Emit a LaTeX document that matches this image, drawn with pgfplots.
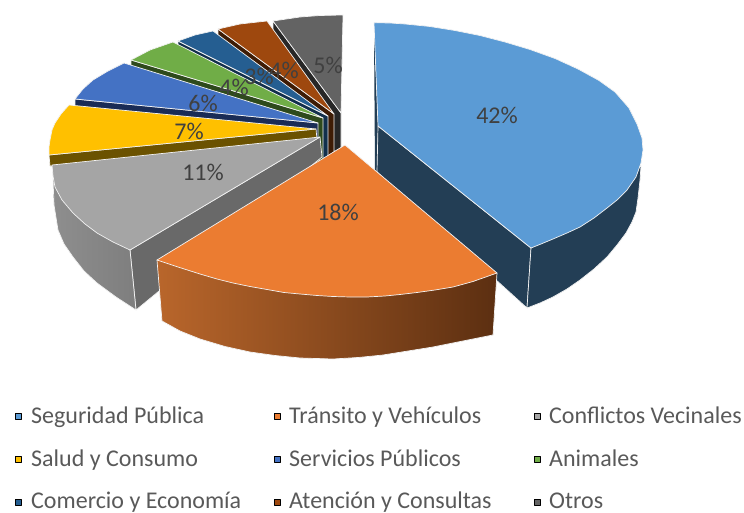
\documentclass[border=0pt]{standalone}
\usepackage{fontspec}
\setmainfont{Carlito}
\usepackage{pgfplots}
\pgfplotsset{compat=1.18}
\definecolor{cA}{HTML}{5B9BD5}\definecolor{cAd}{HTML}{233E55}
\definecolor{cB}{HTML}{EB7C31}\definecolor{cBl}{HTML}{B9662B}\definecolor{cBr}{HTML}{5C2F11}
\definecolor{cC}{HTML}{A5A5A5}\definecolor{cCl}{HTML}{8E8E8E}\definecolor{cCr}{HTML}{7E7E7E}\definecolor{cCd}{HTML}{696969}
\definecolor{cD}{HTML}{FFC000}\definecolor{cDd}{HTML}{6B5200}
\definecolor{cE}{HTML}{4472C4}\definecolor{cEd}{HTML}{1A2C56}
\definecolor{cF}{HTML}{70AD47}\definecolor{cFd}{HTML}{2E4A1C}
\definecolor{cG}{HTML}{255E91}\definecolor{cGd}{HTML}{12304C}
\definecolor{cH}{HTML}{9E480E}\definecolor{cHd}{HTML}{3E1C05}
\definecolor{cI}{HTML}{636363}\definecolor{cId}{HTML}{272727}
\definecolor{lab}{HTML}{404040}\definecolor{leg}{HTML}{595959}
\tikzset{
  edge/.style={draw=white!95!black,line width=0.7pt},
  lbl/.style={font=\fontsize{24}{24}\selectfont,text=lab,inner sep=0pt,anchor=center},
  lg/.style={font=\fontsize{24}{24}\selectfont,text=leg,inner sep=0pt,anchor=base west}}
\begin{document}
\begin{tikzpicture}
\begin{axis}[scale only axis,width=744pt,height=513pt,xmin=0,xmax=744,ymin=0,ymax=513,y dir=reverse,hide axis,clip=false,
  every axis plot/.append style={line join=round}]
\path (axis cs:0,0) rectangle (axis cs:744,513);
% Otros
\addplot[fill=cId,edge] coordinates {(273,21)(341,113)(341,160)(273,70)} -- cycle;
\addplot[fill=cI,edge] coordinates {(341,113)(273,21)(300,17)(320,15.5)(343,15)} -- cycle;
% Atencion
\addplot[fill=cHd,edge] coordinates {(218,29)(334,114)(334,165)(218,75)} -- cycle;
\addplot[fill=cH,edge] coordinates {(334,114)(218,29)(240,24)(267,21)} -- cycle;
% Comercio
\addplot[fill=cGd,edge] coordinates {(178,41)(328,116)(328,165)(178,90)} -- cycle;
\addplot[fill=cG,edge] coordinates {(328,116)(178,41)(195,35)(213,31)} -- cycle;
% Animales
\addplot[fill=cFd,edge] coordinates {(131,60)(323,118)(323,170)(131,110)} -- cycle;
\addplot[fill=cF,edge] coordinates {(323,118)(131,60)(150,50)(173,42)} -- cycle;
% Servicios
\addplot[fill=cEd,edge] coordinates {(75,99)(318,123)(318,168)(75,150)} -- cycle;
\addplot[fill=cE,edge] coordinates {(318,123)(75,99)(83,89)(93,80)(108,71)(124,63)} -- cycle;
% Salud
\addplot[fill=cDd,edge] coordinates {(49,155)(316,129)(320,170)(50,166)} -- cycle;
\addplot[fill=cD,edge] coordinates {(316,129)(49,155)(49,147)(50,140)(52,130)(55,123)(61,114)(69,105)} -- cycle;
% Conflictos
\addplot[fill=cCd,edge] coordinates {(320,137)(322,157)(136,310)(130,250)} -- cycle;
\addplot[left color=cCl,right color=cCr,edge] coordinates {(53,178)(54,205)(58,230)(64,244)(73,257)(84,271)(97,283)(116,297)(136,310)(130,250)} -- cycle;
\addplot[fill=cC,edge] coordinates {(320,137)(52,165)(53,176)(55,187)(62,200)(73,213)(85,224)(97,233)(113,242)(130,250)} -- cycle;
% Seguridad faces
\addplot[fill=cAd,draw=none] coordinates {(374,30)(378,126)(377,172)(375,172)} -- cycle;
\addplot[fill=cAd,edge] coordinates {(378,126)(531,248)(527,308)(377,172)} -- cycle;
\addplot[fill=cAd,edge] coordinates {(641,166)(640,180)(638,198)(636,212)(632,222)(626,233)(617,245)(607,257)(594,269)(580,280)(567,289)(553,297)(540,303)(527,308)(531,248)} -- cycle;
\addplot[fill=cA,edge] coordinates {(378,126)(374,22.7)(390,23)(405,24)(430,26.5)(455,30.5)(480,35.5)(505,42)(530,49.5)(555,58.5)(578,69)(599,80.5)(615,92)(629,108)(637,124)(642,138)(643,150)(641,163)(636,177)(627,190)(617,200)(607,208)(594,218)(580,227)(567,233)(553,239)(541,244)(531,248)} -- cycle;
% Transito
\addplot[left color=cBl,right color=cBr,edge] coordinates {(157,260)(162,321)(180,331)(200,339)(225,346.5)(250,352)(275,355.5)(300,358)(333,359)(358,357.5)(383,355)(408,351)(433,347)(463,341)(493,335)(497,273)} -- cycle;
\addplot[fill=cB,edge] coordinates {(345,145)(157,260)(178,267)(200,274)(217,279)(233,283)(250,286.5)(267,289.5)(284,292.5)(300,294)(317,295.5)(333,296.5)(350,297)(367,297)(385,296)(400,294.5)(417,292.5)(435,290)(453,287)(473,281.5)(497,273)} -- cycle;
% data labels
\node[lbl] at (axis cs:497,115) {42\%};
\node[lbl] at (axis cs:338,212) {18\%};
\node[lbl] at (axis cs:203,172) {11\%};
\node[lbl] at (axis cs:189,131) {7\%};
\node[lbl] at (axis cs:203,103) {6\%};
\node[lbl] at (axis cs:234,87) {4\%};
\node[lbl] at (axis cs:259,76) {3\%};
\node[lbl] at (axis cs:284,70) {4\%};
\node[lbl] at (axis cs:328,65) {5\%};
% legend
\addplot[only marks,mark=square*,mark size=3.3pt,mark options={draw=none,fill=cA}] coordinates {(18,416)};
\addplot[only marks,mark=square*,mark size=3.3pt,mark options={draw=none,fill=cB}] coordinates {(277,416)};
\addplot[only marks,mark=square*,mark size=3.3pt,mark options={draw=none,fill=cC}] coordinates {(537,416)};
\addplot[only marks,mark=square*,mark size=3.3pt,mark options={draw=none,fill=cD}] coordinates {(18,459)};
\addplot[only marks,mark=square*,mark size=3.3pt,mark options={draw=none,fill=cE}] coordinates {(277,459)};
\addplot[only marks,mark=square*,mark size=3.3pt,mark options={draw=none,fill=cF}] coordinates {(537,459)};
\addplot[only marks,mark=square*,mark size=3.3pt,mark options={draw=none,fill=cG}] coordinates {(18,502)};
\addplot[only marks,mark=square*,mark size=3.3pt,mark options={draw=none,fill=cH}] coordinates {(277,502)};
\addplot[only marks,mark=square*,mark size=3.3pt,mark options={draw=none,fill=cI}] coordinates {(537,502)};
\node[lg] at (axis cs:31,423) {Seguridad Pública};
\node[lg] at (axis cs:289,423) {Tránsito y Vehículos};
\node[lg] at (axis cs:549,423) {Conflictos Vecinales};
\node[lg] at (axis cs:31,466) {Salud y Consumo};
\node[lg] at (axis cs:289,466) {Servicios Públicos};
\node[lg] at (axis cs:549,466) {Animales};
\node[lg] at (axis cs:31,508) {Comercio y Economía};
\node[lg] at (axis cs:289,508) {Atención y Consultas};
\node[lg] at (axis cs:549,508) {Otros};
\end{axis}
\end{tikzpicture}
\end{document}
